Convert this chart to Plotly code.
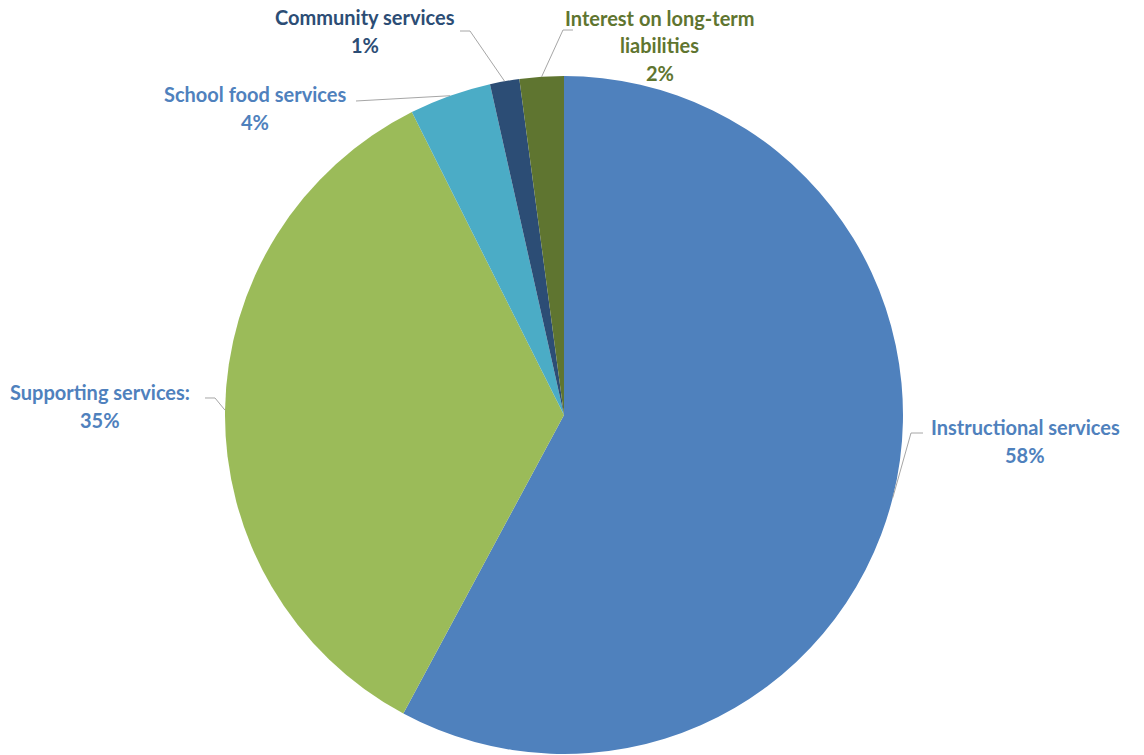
import math
import plotly.graph_objects as go

categories = ["Instructional services", "Supporting services:", "School food services",
              "Community services", "Interest on long-term<br>liabilities"]
values = [57.8, 34.7, 3.9, 1.4, 2.1]
slice_colors = ["#4F81BD", "#9BBB59", "#4BACC6", "#2C4D75", "#5F7530"]
label_colors = ["#4F81BD", "#4F81BD", "#4F81BD", "#2C4D75", "#5F7530"]

W, H = 1144, 755
CX, CY, R = 564, 415, 339
LINE_H = 27.5

# label layout (pixel) : text centre, elbow, end of leader line
label_pos = [(1025, 441), (100, 406), (255, 108), (365, 31), (660, 45)]
elbows = [(911, 433), (215, 398), None, (470, 31), (563, 30)]
ends = [(923, 433), (205, 398), (356, 101), (460, 31), (573, 30)]

def px(x):
    return x / W

def py(y):
    return 1 - y / H

fig = go.Figure(go.Pie(
    labels=[c.replace("<br>", " ") for c in categories],
    values=values,
    sort=False,
    direction="clockwise",
    rotation=0,
    textinfo="none",
    hoverinfo="label+percent",
    marker=dict(colors=slice_colors, line=dict(width=0)),
    domain=dict(x=[(CX - R) / W, (CX + R) / W], y=[(H - CY - R) / H, (H - CY + R) / H]),
    showlegend=False,
))

total = sum(values)
cum = 0
annotations = []
shapes = []
for i, v in enumerate(values):
    mid = (cum + v / 2) / total * 2 * math.pi
    cum += v
    tx = CX + R * math.sin(mid)
    ty = CY - R * math.cos(mid)
    pts = [(tx, ty)]
    if elbows[i]:
        pts.append(elbows[i])
    pts.append(ends[i])
    path = "M " + " L ".join(f"{px(a):.5f},{py(b):.5f}" for a, b in pts)
    shapes.append(dict(type="path", xref="paper", yref="paper", path=path,
                       line=dict(color="#A6A6A6", width=1)))
    lx, ly = label_pos[i]
    lines = categories[i].split("<br>") + [f"{round(v)}%"]
    n = len(lines)
    for k, t in enumerate(lines):
        yk = ly + (k - (n - 1) / 2) * LINE_H
        annotations.append(dict(
            x=px(lx), y=py(yk), xref="paper", yref="paper",
            text=f"<b>{t}</b>",
            showarrow=False, xanchor="center", yanchor="middle",
            font=dict(family="Lato", size=20, color=label_colors[i]),
            align="center",
        ))

fig.update_layout(
    width=W, height=H,
    margin=dict(l=0, r=0, t=0, b=0),
    paper_bgcolor="white", plot_bgcolor="white",
    annotations=annotations, shapes=shapes,
)

fig.write_html("out.html")
